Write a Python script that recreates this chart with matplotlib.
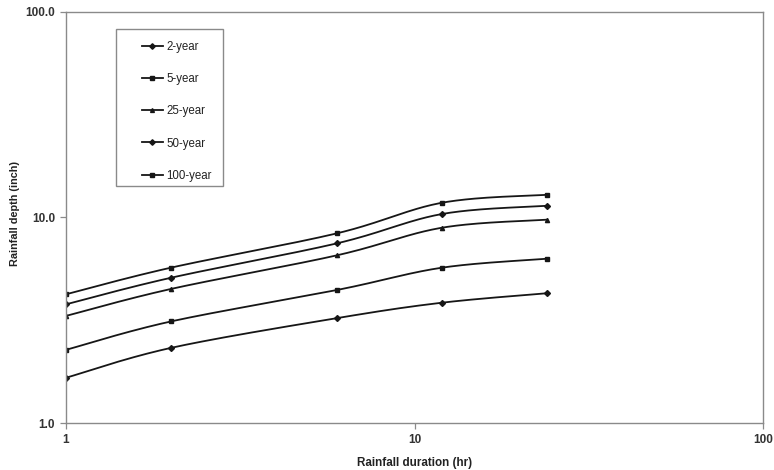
import numpy as np
import matplotlib

matplotlib.use("Agg")
import matplotlib.pyplot as plt
from matplotlib.patches import Rectangle
from matplotlib.lines import Line2D

plt.rcParams["font.family"] = ["Liberation Sans", "DejaVu Sans"]

DURATION_HR = [1, 2, 6, 12, 24]
SERIES = ["2-year", "5-year", "25-year", "50-year", "100-year"]
DEPTH_2YR = [1.66, 2.32, 3.24, 3.85, 4.28]
DEPTH_5YR = [2.27, 3.12, 4.44, 5.70, 6.30]
DEPTH_25YR = [3.32, 4.49, 6.55, 8.92, 9.76]
DEPTH_50YR = [3.78, 5.09, 7.49, 10.4, 11.4]
DEPTH_100YR = [4.23, 5.70, 8.38, 11.8, 12.9]
DEPTHS = [DEPTH_2YR, DEPTH_5YR, DEPTH_25YR, DEPTH_50YR, DEPTH_100YR]
MARKERS = ["D", "s", "^", "D", "s"]

INK = "#161616"
AXIS_GREY = "#8a8a8a"


def smooth_path(ax, xs, ys, steps=40):
    """Bezier smoothing in screen space (spreadsheet-style smoothed line)."""
    pts = ax.transData.transform(np.column_stack([xs, ys]))
    n = len(pts)
    out = [pts[0]]
    t = np.linspace(0, 1, steps)[1:, None]
    for i in range(n - 1):
        p0 = pts[max(i - 1, 0)]
        p1 = pts[i]
        p2 = pts[i + 1]
        p3 = pts[min(i + 2, n - 1)]
        c1 = p1 + (p2 - p0) / 6.0
        c2 = p2 - (p3 - p1) / 6.0
        seg = ((1 - t) ** 3) * p1 + 3 * ((1 - t) ** 2) * t * c1 \
            + 3 * (1 - t) * t ** 2 * c2 + t ** 3 * p2
        out.extend(seg)
    out = np.array(out)
    data = ax.transData.inverted().transform(out)
    return data[:, 0], data[:, 1]


fig = plt.figure(figsize=(7.74, 4.70), dpi=100)
ax = fig.add_axes([0.0853, 0.100, 0.9005, 0.8745])

ax.set_xscale("log")
ax.set_yscale("log")
ax.set_xlim(1, 100)
ax.set_ylim(1, 100)

ax.set_xticks([1, 10, 100])
ax.set_xticklabels(["1", "10", "100"])
ax.set_yticks([1, 10, 100])
ax.set_yticklabels(["1.0", "10.0", "100.0"])
ax.minorticks_off()
ax.tick_params(axis="both", direction="out", length=4, width=0.9,
               color=AXIS_GREY, labelsize=8.5, labelcolor="#333333", pad=4)
for lab in ax.get_xticklabels() + ax.get_yticklabels():
    lab.set_fontweight("bold")

for side in ax.spines.values():
    side.set_color(AXIS_GREY)
    side.set_linewidth(1.0)

# draw once so transData is valid before smoothing
fig.canvas.draw()

for name, depth, mk in zip(SERIES, DEPTHS, MARKERS):
    sx, sy = smooth_path(ax, DURATION_HR, depth)
    ax.plot(sx, sy, color=INK, linewidth=1.3, solid_capstyle="round")
    ax.plot(DURATION_HR, depth, linestyle="none", marker=mk, markersize=3.0,
            color=INK)

ax.set_xlabel("Rainfall duration (hr)", fontsize=8.4, fontweight="bold",
              color="#222222", labelpad=8)
ax.set_ylabel("Rainfall depth (inch)", fontsize=7.8, fontweight="bold",
              color="#222222")
ax.yaxis.set_label_coords(-0.066, 0.51)

# legend box
ax.add_patch(Rectangle((0.0717, 0.5766), 0.1535, 0.382, transform=ax.transAxes,
                       fill=False, edgecolor=AXIS_GREY, linewidth=1.0,
                       zorder=5))
handles = [Line2D([0], [0], color=INK, linewidth=1.3, marker=mk,
                  markersize=2.8) for mk in MARKERS]
leg = ax.legend(handles, SERIES, loc="upper left",
                bbox_to_anchor=(0.1055, 0.935), frameon=False, fontsize=8.3,
                handlelength=1.8, handletextpad=0.3, labelspacing=1.75,
                borderpad=0.2, borderaxespad=0.0)
for txt in leg.get_texts():
    txt.set_color("#222222")

fig.savefig("out.png", dpi=100, facecolor="white")
